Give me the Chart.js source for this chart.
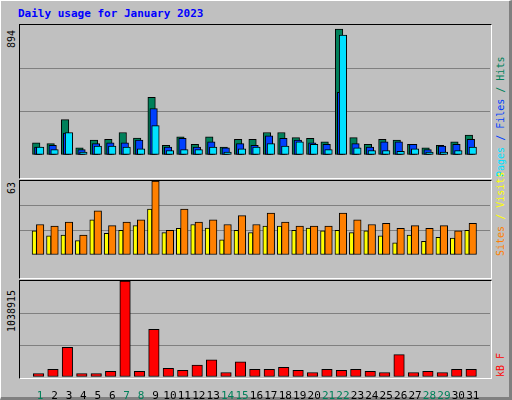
<!DOCTYPE html>
<html><head><meta charset="utf-8">
<script src="https://cdn.jsdelivr.net/npm/chart.js@4"></script>
<style>
body{margin:0;background:#fff}
#frame{position:absolute;left:0;top:0;width:508px;height:396px;background:#c0c0c0;border-top:1px solid #fff;border-left:1px solid #fff;border-right:3px solid #808080;border-bottom:3px solid #808080}
.t{position:absolute;font-family:"DejaVu Sans Mono",monospace;font-size:10px;white-space:nowrap}
.rot{transform-origin:0 0;transform:rotate(-90deg)}
.box{position:absolute;left:19px;width:471px;border:1px solid #000;border-right-color:#fff;border-bottom-color:#fff}
.w{position:absolute;left:20px;width:470px}
</style></head><body>
<div id="frame"></div>
<div class="t" style="left:18px;top:7px;color:#0000ff;font-weight:bold;font-size:11px">Daily usage for January 2023</div>
<div class="box" style="top:24px;height:153px"></div>
<div class="box" style="top:180px;height:97px"></div>
<div class="box" style="top:280px;height:97px"></div>
<div class="t rot" style="left:6px;top:48px">894</div>
<div class="t rot" style="left:6px;top:194px">63</div>
<div class="t rot" style="left:6px;top:332px">1038915</div>
<div class="t rot" style="left:495px;top:177px"><span style="color:#00e0ff">Pages</span><span style="color:#0040ff"> / </span><span style="color:#0040ff">Files</span><span style="color:#00805a"> / </span><span style="color:#00805a">Hits</span></div>
<div class="t rot" style="left:495px;top:256px"><span style="color:#ff8000">Sites</span><span style="color:#ffff00"> / </span><span style="color:#ffff00">Visits</span></div>
<div class="t rot" style="left:495px;top:377px;color:#ff0000">kB F</div>
<div class="w" style="top:25px;height:152px"><canvas id="c1"></canvas></div>
<div class="w" style="top:181px;height:96px"><canvas id="c2"></canvas></div>
<div class="w" style="top:281px;height:118px"><canvas id="c3"></canvas></div>
<script>
const days=[1,2,3,4,5,6,7,8,9,10,11,12,13,14,15,16,17,18,19,20,21,22,23,24,25,26,27,28,29,30,31];
const weekend=[1,7,8,14,15,21,22,28,29];
const hits=[84,78,243,49,102,108,155,116,396,67,125,73,125,55,108,108,155,155,120,114,90,866,120,73,108,102,73,49,67,90,137];
const files=[55,67,151,37,78,84,84,102,320,55,114,55,90,49,78,67,131,114,102,84,73,431,78,55,90,90,73,37,61,73,108];
const pages=[55,37,155,20,61,61,55,43,202,31,37,37,55,20,43,55,78,61,90,73,37,825,49,31,31,25,43,20,20,31,55];
const sites=[26,24.6,28,17,37.6,25,28,30,63,21,39,28,30,26,33.5,26,35.6,28,24.6,24.6,24.6,35.6,30,26,27,22.6,25,22.6,25,20.5,27];
const visits=[20.5,16.4,17,12.3,30,18.5,21,25,39,19,22.6,26,23,13,21,19,24.6,24.6,21,23,20.5,21,19,20.5,16.4,10.3,17,11.6,15,14.4,21];
const kbytes=[38000,83000,322000,38000,38000,61000,1038915,61000,516000,95000,72000,129000,186000,49000,163000,83000,83000,106000,72000,49000,83000,72000,83000,61000,49000,243000,49000,61000,49000,83000,83000];
const yMax1=894,yMax2=63,yMax3=1038915;
Chart.defaults.animation=false;
function ds(vals,off,color,w,ord){return{data:vals.map((v,i)=>({x:days[i]+off,y:v})),backgroundColor:color,borderColor:'#000',borderWidth:1,borderSkipped:false,barThickness:w,grouped:false,order:ord};}
function mk(id,datasets,max,showX){
  return new Chart(document.getElementById(id),{type:'bar',data:{datasets},options:{responsive:true,maintainAspectRatio:false,devicePixelRatio:1,
    layout:{padding:0},plugins:{legend:{display:false},tooltip:{enabled:false}},
    scales:{x:{type:'linear',min:0.13,max:31.67,display:showX,grid:{display:false},border:{display:false},
      afterBuildTicks:s=>{s.ticks=days.map(d=>({value:d}))},
      ticks:{autoSkip:false,maxRotation:0,padding:5,font:{family:'DejaVu Sans Mono',size:11},
        color:ctx=>weekend.includes(ctx.tick.value)?'#00805a':'#000',callback:v=>String(v)},
      afterFit:s=>{s.height=22;s.paddingLeft=0;s.paddingRight=0}},
      y:{display:true,min:0,max:max,afterBuildTicks:s=>{s.ticks=[0,max/3,2*max/3,max].map(v=>({value:v}))},
        ticks:{display:false},grid:{color:ctx=>(ctx.tick.value>0&&ctx.tick.value<max)?'#808080':'rgba(0,0,0,0)',drawTicks:false},
        border:{display:false},afterFit:s=>{s.width=0}}}}});
}
mk('c1',[ds(hits,-0.27,'#00805a',7.5,3),ds(files,-0.13,'#0040ff',7.5,2),ds(pages,0,'#00e0ff',7.5,1)],yMax1,false);
mk('c2',[ds(visits,-0.4,'#ffff00',4.5,2),ds(sites,0,'#ff8000',7.5,1)],yMax2,false);
mk('c3',[ds(kbytes,-0.11,'#ff0000',10.5,1)],yMax3,true);
</script></body></html>
